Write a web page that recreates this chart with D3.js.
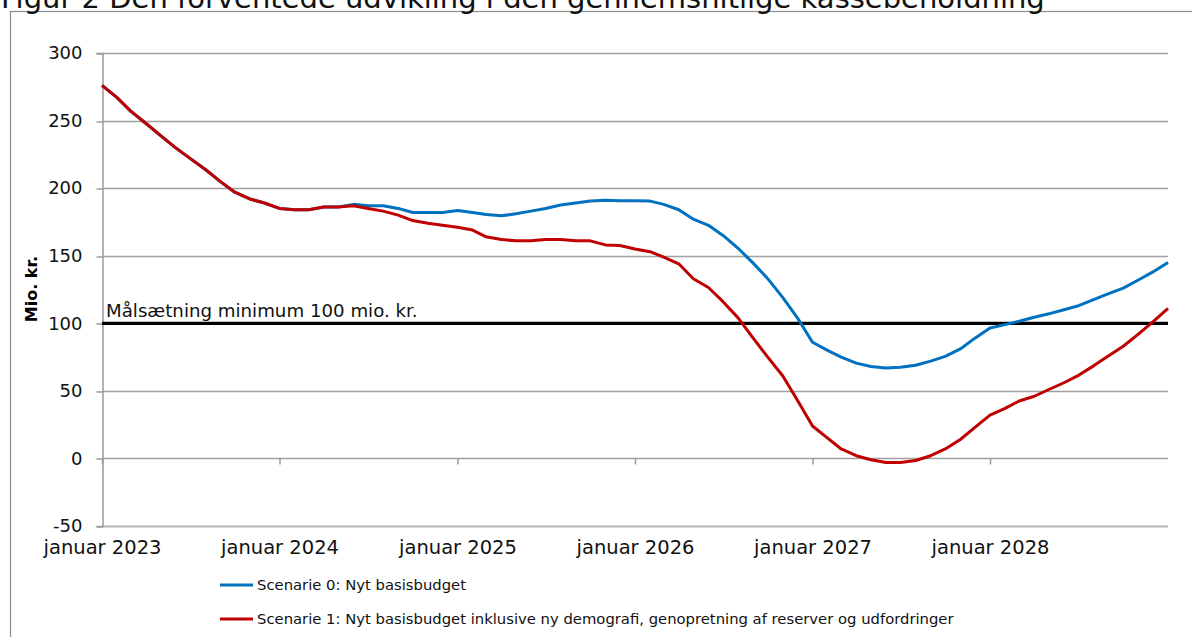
<!DOCTYPE html>
<html>
<head>
<meta charset="utf-8">
<script src="https://cdn.jsdelivr.net/npm/d3@7"></script>
<style>
  body { margin: 0; background: #fff; }
  svg { display: block; font-family: "DejaVu Sans", Verdana, sans-serif; }
</style>
</head>
<body>
<div id="chart"></div>
<script>
// chart values
var title = "Figur 2 Den forventede udvikling i den gennemsnitlige kassebeholdning";
var yLabel = "Mio. kr.";
var yTicks = [-50, 0, 50, 100, 150, 200, 250, 300];
var tickYears = [2023, 2024, 2025, 2026, 2027, 2028];
var startMonth = new Date(2023, 0, 1);
var endMonth = new Date(2029, 0, 1);

var targetValue = 100;
var targetLabel = "Målsætning minimum 100 mio. kr.";

var seriesNames = [
  "Scenarie 0: Nyt basisbudget",
  "Scenarie 1: Nyt basisbudget inklusive ny demografi, genopretning af reserver og udfordringer"
];
var seriesColors = ["#0070c0", "#c00000"];

// monthly values, januar 2023 .. januar 2029
var scenarie0 = [
  276, 267, 257, 248, 239, 230, 222, 214, 205, 197,
  192, 189, 185, 184, 184, 186, 186, 188, 187, 187,
  185, 182, 182, 182, 183.5, 182, 180.5, 179.5, 181, 183,
  185, 187.5, 189, 190.5, 191, 190.6, 190.6, 190.4, 188, 184,
  177, 172.5, 165, 155.5, 144.5, 133, 119, 104, 86, 80,
  75, 70.5, 68, 67, 67.5, 69, 72, 75.5, 81, 89,
  96.5, 99, 101.5, 104.5, 107, 110, 113, 117.5, 122, 126,
  132, 138, 145
];
var scenarie1 = [
  276, 267, 257, 248, 239, 230, 222, 214, 205, 197,
  192, 189, 185, 184, 184, 186, 186, 187, 185, 183,
  180, 176, 174, 172.5, 171, 169, 164, 162, 161, 161,
  162, 162, 161, 161, 158, 157.5, 155, 153, 149, 144,
  133, 126.5, 116, 104, 89, 75, 61, 43, 24, 15,
  7, 2, -1, -3, -3, -1.5, 2, 7, 14, 23,
  32, 37, 42.5, 46, 51, 56, 61.5, 68.5, 76, 83,
  92, 101, 111
];

var svgWidth = 1192;
var svgHeight = 637;

var plot = { left: 102, right: 1168, top: 53, bottom: 526 };

var svg = d3.select("#chart")
  .append("svg")
  .attr("width", svgWidth)
  .attr("height", svgHeight);

// outer chart frame (runs off the page on the right and bottom)
svg.append("rect")
  .attr("x", 10.5)
  .attr("y", 11.5)
  .attr("width", 1300)
  .attr("height", 800)
  .attr("fill", "none")
  .attr("stroke", "#8c8c8c")
  .attr("stroke-width", 1.2);

// title, top of it cut by the page edge like in the source figure
svg.append("text")
  .attr("x", 1)
  .attr("y", 8)
  .attr("font-size", 29)
  .attr("fill", "#111")
  .text(title);

var x = d3.scaleTime()
  .domain([startMonth, endMonth])
  .range([plot.left, plot.right]);

var y = d3.scaleLinear()
  .domain([-50, 300])
  .range([plot.bottom, plot.top]);

// horizontal gridlines
svg.append("g")
  .selectAll("line")
  .data(yTicks)
  .enter()
  .append("line")
  .attr("x1", plot.left)
  .attr("x2", plot.right)
  .attr("y1", d => Math.round(y(d)) + 0.5)
  .attr("y2", d => Math.round(y(d)) + 0.5)
  .attr("stroke", d => d === -50 ? "#b4b4b4" : "#a0a0a0")
  .attr("stroke-width", d => d === -50 ? 2 : 1.5);

// y axis
var leftAxis = d3.axisLeft(y)
  .tickValues(yTicks)
  .tickSize(6)
  .tickPadding(14)
  .tickFormat(d => String(d));

var yAxisG = svg.append("g")
  .attr("transform", `translate(${plot.left + 0.5}, 0)`)
  .call(leftAxis);
yAxisG.select(".domain").attr("stroke", "#9a9a9a").attr("stroke-width", 1.5);
yAxisG.selectAll(".tick line").attr("stroke", "#9a9a9a").attr("stroke-width", 1.5)
  .attr("transform", d => `translate(0, ${Math.round(y(d)) + 0.5 - y(d)})`);
yAxisG.selectAll("text")
  .attr("font-family", "DejaVu Sans, Verdana, sans-serif")
  .attr("font-size", 18)
  .attr("fill", "#111");

// year ticks sit on the zero line
var yearDates = tickYears.map(yr => new Date(yr, 0, 1));

var tickAxis = d3.axisBottom(x)
  .tickValues(yearDates)
  .tickSize(6)
  .tickFormat("");

var tickG = svg.append("g")
  .attr("transform", `translate(0, ${Math.round(y(0)) + 0.5})`)
  .call(tickAxis);
tickG.select(".domain").remove();
tickG.selectAll(".tick line").attr("stroke", "#9a9a9a").attr("stroke-width", 1.5);

// year labels below the plot
var labelAxis = d3.axisBottom(x)
  .tickValues(yearDates)
  .tickSize(0)
  .tickPadding(14)
  .tickFormat(d => "januar " + d.getFullYear());

var labelG = svg.append("g")
  .attr("transform", `translate(0, ${plot.bottom})`)
  .call(labelAxis);
labelG.select(".domain").remove();
labelG.selectAll("text")
  .attr("font-family", "DejaVu Sans, Verdana, sans-serif")
  .attr("font-size", 19.5)
  .attr("fill", "#111");

// y axis title
svg.append("text")
  .attr("transform", `translate(37, 289) rotate(-90)`)
  .attr("text-anchor", "middle")
  .attr("font-size", 16)
  .attr("font-weight", "bold")
  .attr("fill", "#000")
  .text(yLabel);

// target line at 100
svg.append("line")
  .attr("x1", plot.left)
  .attr("x2", plot.right)
  .attr("y1", y(targetValue))
  .attr("y2", y(targetValue))
  .attr("stroke", "#000")
  .attr("stroke-width", 3.2);

svg.append("text")
  .attr("x", 106)
  .attr("y", y(targetValue) - 6)
  .attr("font-size", 18.2)
  .attr("fill", "#111")
  .text(targetLabel);

// series lines
var series = [scenarie0, scenarie1];

var line = d3.line()
  .x((d, i) => x(d3.timeMonth.offset(startMonth, i)))
  .y(d => y(d));

svg.append("g")
  .selectAll("path")
  .data(series)
  .enter()
  .append("path")
  .attr("d", d => line(d))
  .attr("fill", "none")
  .attr("stroke", (d, i) => seriesColors[i])
  .attr("stroke-width", 3)
  .attr("stroke-linejoin", "round");

// legend
var legend = svg.append("g")
  .selectAll("g")
  .data(seriesNames)
  .enter()
  .append("g")
  .attr("transform", (d, i) => `translate(220, ${585 + i * 34})`);

legend.append("line")
  .attr("x1", 0)
  .attr("x2", 33)
  .attr("stroke", (d, i) => seriesColors[i])
  .attr("stroke-width", 3);

legend.append("text")
  .attr("x", 37)
  .attr("dy", "0.35em")
  .attr("font-size", 14.8)
  .attr("fill", "#111")
  .text(d => d);
</script>
</body>
</html>
